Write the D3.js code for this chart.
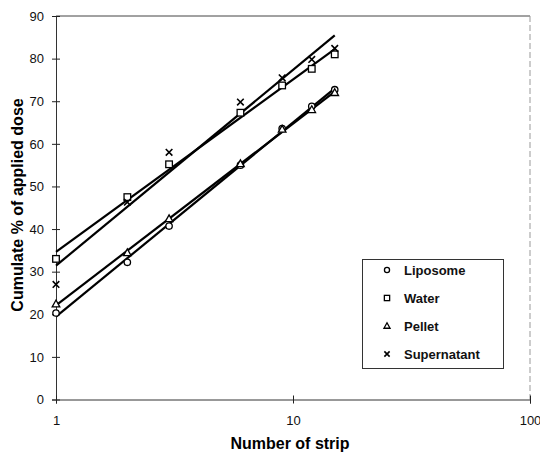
<!DOCTYPE html>
<html>
<head>
<meta charset="utf-8">
<script src="https://cdn.jsdelivr.net/npm/d3@7"></script>
<style>
  body { margin: 0; background: #fff; }
  svg { display: block; font-family: 'Liberation Sans', Arial, sans-serif; }
</style>
</head>
<body>
<svg id="chart" width="540" height="453"></svg>
<script>
// strips and the cumulated % of dose for each formulation
var strips = [1, 2, 3, 6, 9, 12, 15]
var liposome = [20.3, 32.2, 40.7, 55.0, 63.6, 68.8, 72.7]
var water = [33.0, 47.5, 55.2, 67.3, 73.7, 77.6, 81.0]
var pellet = [22.4, 34.4, 42.4, 55.3, 63.4, 68.0, 72.0]
var supernatant = [27.0, 46.3, 58.0, 69.8, 75.5, 79.8, 82.4]
var seriesNames = ['Liposome', 'Water', 'Pellet', 'Supernatant']
var seriesSymbols = ['circle', 'square', 'triangle', 'cross']
var xTicks = [1, 10, 100]
var yTicks = [0, 10, 20, 30, 40, 50, 60, 70, 80, 90]

var allSeries = [liposome, water, pellet, supernatant]

var svg = d3.select('#chart')
var plotLeft = 56, plotRight = 530, plotTop = 16, plotBottom = 399.5

var x = d3.scaleLog().domain([1, 100]).range([plotLeft, plotRight])
var y = d3.scaleLinear().domain([0, 90]).range([plotBottom, plotTop])

// frame: top solid, right faint dashed
svg.append('line')
  .attr('x1', plotLeft).attr('x2', plotRight).attr('y1', plotTop).attr('y2', plotTop)
  .attr('stroke', '#444').attr('stroke-width', 1)
svg.append('line')
  .attr('x1', plotRight).attr('x2', plotRight).attr('y1', plotTop).attr('y2', plotBottom)
  .attr('stroke', '#999').attr('stroke-width', 1).attr('stroke-dasharray', '6,3')

// y axis
var yAxis = svg.append('g').attr('transform', 'translate(' + plotLeft + ',0)')
  .call(d3.axisLeft(y).tickValues(yTicks).tickSize(4).tickPadding(8))
yAxis.select('.domain').attr('stroke', '#333')
yAxis.selectAll('.tick line').attr('x2', 4).attr('x1', -4).attr('stroke', '#222')
yAxis.selectAll('.tick text').attr('font-size', 13).attr('fill', '#111')
  .attr('font-family', "'Liberation Sans', Arial, sans-serif")

// x axis
var xAxis = svg.append('g').attr('transform', 'translate(0,' + plotBottom + ')')
  .call(d3.axisBottom(x).tickValues(xTicks).tickFormat(d3.format('d')).tickSize(4).tickPadding(12))
xAxis.select('.domain').attr('stroke', '#333')
xAxis.selectAll('.tick line').attr('y1', -4).attr('y2', 4).attr('stroke', '#222')
xAxis.selectAll('.tick text').attr('font-size', 13).attr('fill', '#111')
  .attr('font-family', "'Liberation Sans', Arial, sans-serif")

// axis titles
svg.append('text')
  .attr('x', 290).attr('y', 449)
  .attr('text-anchor', 'middle')
  .attr('font-size', 16).attr('font-weight', 'bold')
  .text('Number of strip')
svg.append('text')
  .attr('transform', 'translate(23,205) rotate(-90)')
  .attr('text-anchor', 'middle')
  .attr('font-size', 16).attr('font-weight', 'bold')
  .text('Cumulate % of applied dose')

// least squares fit on log10(strip)
function fit (vals) {
  var lx = strips.map(function (s) { return Math.log10(s) })
  var mx = d3.mean(lx), my = d3.mean(vals)
  var sxy = 0, sxx = 0
  lx.forEach(function (v, i) {
    sxy += (v - mx) * (vals[i] - my)
    sxx += (v - mx) * (v - mx)
  })
  var b = sxy / sxx
  var a = my - b * mx
  return function (s) { return a + b * Math.log10(s) }
}

var lineGroup = svg.append('g')
allSeries.forEach(function (vals) {
  var f = fit(vals)
  var x0 = strips[0], x1 = strips[strips.length - 1]
  lineGroup.append('line')
    .attr('x1', x(x0)).attr('y1', y(f(x0)))
    .attr('x2', x(x1)).attr('y2', y(f(x1)))
    .attr('stroke', '#000').attr('stroke-width', 2.2)
})

// s = scale of the marker (legend ones are a bit smaller)
function drawSymbol (g, kind, cx, cy, s) {
  s = s || 1
  if (kind === 'circle') {
    g.append('circle').attr('cx', cx).attr('cy', cy).attr('r', 3.2 * s)
      .attr('fill', '#fff').attr('stroke', '#000').attr('stroke-width', 1.3)
  } else if (kind === 'square') {
    g.append('rect').attr('x', cx - 3.3 * s).attr('y', cy - 3.3 * s)
      .attr('width', 6.6 * s).attr('height', 6.6 * s)
      .attr('fill', '#fff').attr('stroke', '#000').attr('stroke-width', 1.3)
  } else if (kind === 'triangle') {
    g.append('path')
      .attr('d', 'M' + cx + ',' + (cy - 4 * s) + 'L' + (cx + 3.8 * s) + ',' + (cy + 2.8 * s) +
        'L' + (cx - 3.8 * s) + ',' + (cy + 2.8 * s) + 'Z')
      .attr('fill', '#fff').attr('stroke', '#000').attr('stroke-width', 1.3)
  } else {
    var h = 3.3 * s
    g.append('path')
      .attr('d', 'M' + (cx - h) + ',' + (cy - h) + 'L' + (cx + h) + ',' + (cy + h) +
        'M' + (cx - h) + ',' + (cy + h) + 'L' + (cx + h) + ',' + (cy - h))
      .attr('stroke', '#000').attr('stroke-width', 1.6).attr('fill', 'none')
  }
}

var markGroup = svg.append('g')
allSeries.forEach(function (vals, si) {
  vals.forEach(function (v, i) {
    drawSymbol(markGroup, seriesSymbols[si], x(strips[i]), y(v))
  })
})

// legend
var lg = svg.append('g')
lg.append('rect')
  .attr('x', 362.5).attr('y', 259.5).attr('width', 141).attr('height', 109)
  .attr('fill', '#fff').attr('stroke', '#333').attr('stroke-width', 1)
seriesNames.forEach(function (name, i) {
  var ry = 270 + i * 28
  drawSymbol(lg, seriesSymbols[i], 387, ry, 0.8)
  lg.append('text')
    .attr('x', 404).attr('y', ry + 5)
    .attr('font-size', 13).attr('font-weight', 'bold').attr('fill', '#111')
    .text(name)
})
</script>
</body>
</html>
